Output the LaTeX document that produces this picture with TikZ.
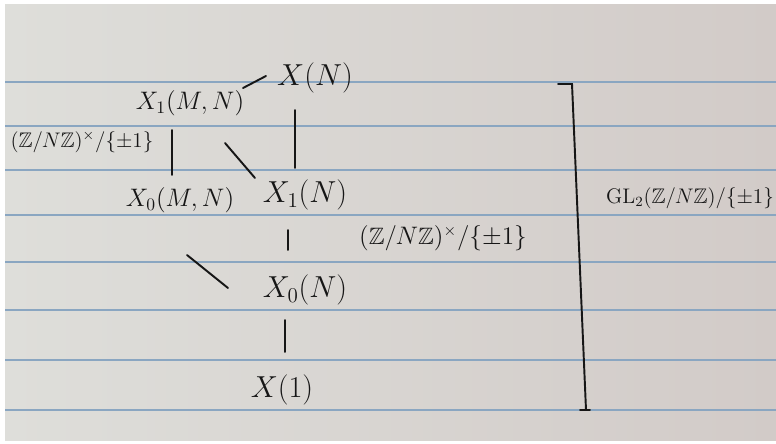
\documentclass[tikz,border=0pt]{standalone}
\usepackage{amsmath,amssymb}
\definecolor{paperL}{HTML}{DEDEDA}
\definecolor{paperR}{HTML}{D2CBC8}
\definecolor{ruleBlue}{HTML}{8AA6C1}
\definecolor{inkBlack}{HTML}{161616}
\usetikzlibrary{positioning}

\begin{document}
\begin{tikzpicture}[x=0.02cm, y=-0.02cm,
      space/.style={inner sep=1pt, text=inkBlack, font=\fontsize{17}{19}\selectfont},
      subspace/.style={space, font=\fontsize{14}{16}\selectfont},
      grouplabel/.style={inner sep=1pt, text=inkBlack, font=\fontsize{12}{14}\selectfont},
      link/.style={inkBlack, line width=1.1pt, line cap=round}]
   % paper with ruled lines
   \useasboundingbox (0,0) rectangle (776,443);
   \fill[white] (0,0) rectangle (776,443);
   \shade[left color=paperL, right color=paperR] (5,4) rectangle (776,440);
   \foreach \y in {82,126,170,215,262,310,360,410}
      \draw[ruleBlue, line width=0.9pt] (5,\y) -- (776,\y);
   % modular curves
   \node[space] (XN) at (315,78) {$X(N)$};
   \node[subspace] (X1MN) at (190,103) {$X_1(M,N)$};
   \node[space] (X1N) at (305,195) {$X_1(N)$};
   \node[subspace] (X0MN) at (180,200) {$X_0(M,N)$};
   \node[space] (X0N) at (305,290) {$X_0(N)$};
   \node[space] (X1) at (282,390) {$X(1)$};
   % covering maps
   \draw[link] ([shift={(53,-15)}]X1MN.center) -- ([shift={(-49,-2)}]XN.center);
   \draw[link] ([shift={(-18,27)}]X1MN.center) -- ([shift={(-8,-25)}]X0MN.center);
   \draw[link] ([shift={(-20,32)}]XN.center) -- ([shift={(-10,-27)}]X1N.center);
   \draw[link] ([shift={(35,40)}]X1MN.center) -- ([shift={(-50,-17)}]X1N.center);
   \draw[link] ([shift={(-17,35)}]X1N.center) -- ([shift={(-17,-40)}]X0N.center);
   \draw[link] ([shift={(7,55)}]X0MN.center) -- ([shift={(-77,-2)}]X0N.center);
   \draw[link] ([shift={(-20,30)}]X0N.center) -- ([shift={(3,-38)}]X1.center);
   % Galois groups
   \node[grouplabel] (autL) at (82,142) {$(\mathbb{Z}/N\mathbb{Z})^{\times}/\{\pm 1\}$};
   \node[grouplabel, font=\fontsize{13.5}{15}\selectfont] (autM) at (443,238) {$(\mathbb{Z}/N\mathbb{Z})^{\times}/\{\pm 1\}$};
   \node[grouplabel] (autGL) at (690,198) {$\mathrm{GL}_2(\mathbb{Z}/N\mathbb{Z})/\{\pm 1\}$};
   % bracket over the whole tower
   \draw[link] (558,84) -- (572,84) -- (586,410);
   \draw[link] (580,410) -- (590,410);
\end{tikzpicture}
\end{document}
